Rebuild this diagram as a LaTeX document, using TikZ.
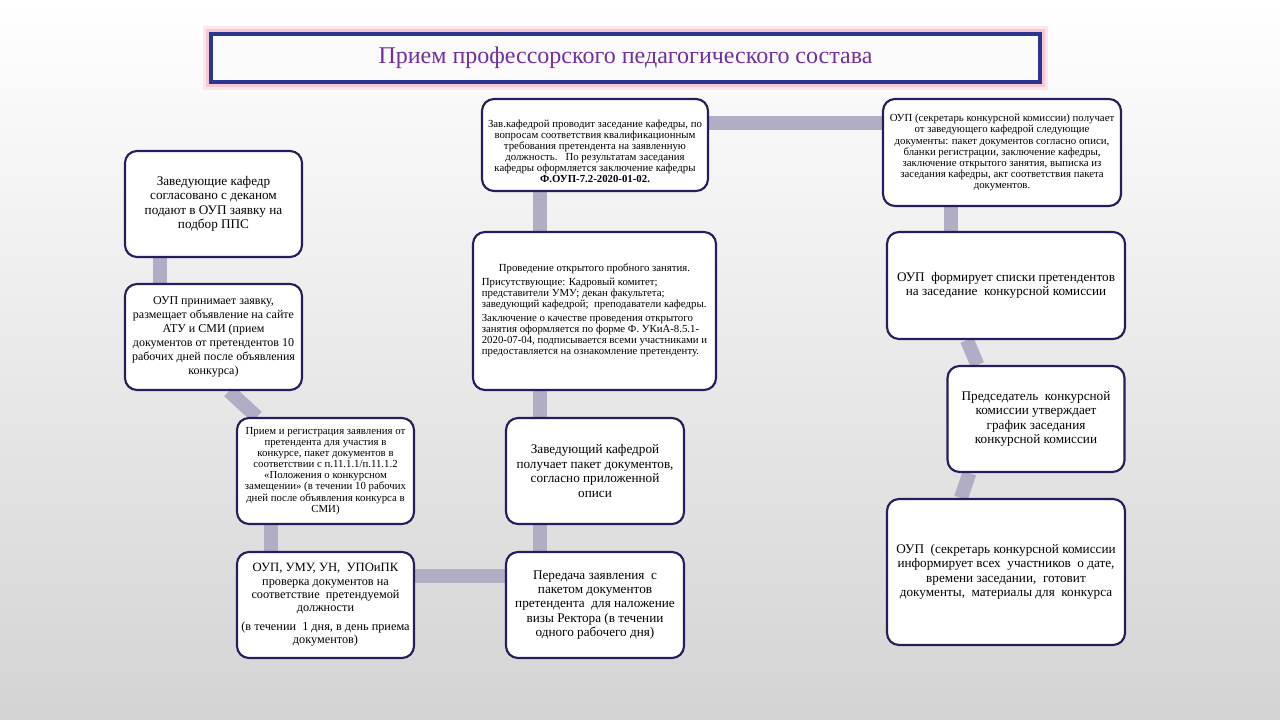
\documentclass[tikz,border=0pt]{standalone}
\usepackage{fontspec}
\setmainfont{Liberation Serif}
\usetikzlibrary{calc}
\pgfdeclarelayer{bglayer}
\pgfdeclarelayer{connlayer}
\pgfsetlayers{bglayer,connlayer,main}
\definecolor{bord}{HTML}{2A1B5C}
\definecolor{connc}{HTML}{B1ADC5}
\definecolor{titleblue}{HTML}{2B3590}
\definecolor{titletext}{HTML}{7030A0}
\definecolor{glowc}{HTML}{F6C9D2}
\begin{document}
\begin{tikzpicture}[x=0.75pt,y=-0.75pt,
  box/.style={draw=bord, line width=1.6pt, fill=white, rounded corners=9pt, align=center, inner sep=2pt},
  bigtxt/.style={font=\fontsize{9.9}{10.8}\selectfont},
  midtxt/.style={font=\fontsize{9}{10.5}\selectfont},
  smalltxt/.style={font=\fontsize{8.1}{8.3}\selectfont},
  conn/.style={draw=connc, line width=10.5pt},
  stdbox/.style={minimum width=132.75pt, minimum height=79.5pt},
  widebox/.style={minimum width=178.5pt, minimum height=80.25pt}]
\useasboundingbox (0,0) rectangle (1280,720);
\begin{pgfonlayer}{bglayer}
\shade[top color=white, bottom color=black!17] (0,0) rectangle (1280,720);
\end{pgfonlayer}

% title
\node[draw=titleblue, line width=2.4pt, fill=white!96!gray, minimum width=621.75pt, minimum height=36pt,
  font=\fontsize{18}{20}\selectfont, text=titletext] (T) at (625.5,58) {Прием профессорского педагогического состава};
\begin{pgfonlayer}{connlayer}
\draw[glowc!60, line width=9pt, opacity=0.7] (T.north west) rectangle (T.south east);
\draw[glowc, line width=5pt] (T.north west) rectangle (T.south east);
\end{pgfonlayer}

% left column
\node[box, bigtxt, stdbox] (A) at (213.5,204) {Заведующие кафедр\\согласовано с деканом\\подают в ОУП заявку на\\подбор ППС};
\node[box, midtxt, stdbox] (B) at (213.5,337) {ОУП принимает заявку,\\размещает объявление на сайте\\АТУ и СМИ (прием\\документов от претендентов 10\\рабочих дней после объявления\\конкурса)};
\node[box, smalltxt, stdbox] (C) at (325.5,471) {Прием и регистрация заявления от\\претендента для участия в\\конкурсе, пакет документов в\\соответствии с п.11.1.1/п.11.1.2\\«Положения о конкурсном\\замещении» (в течении 10 рабочих\\дней после объявления конкурса в\\СМИ)};
\node[box, font=\fontsize{9.2}{10}\selectfont, stdbox] (D) at (325.5,605) {{\fontsize{9.5}{10}\selectfont ОУП, УМУ, УН, \ УПОиПК}\\проверка документов на\\соответствие \ претендуемой\\должности\\[4pt](в течении \ 1 дня, в день приема\\документов)};

% middle column
\node[box, smalltxt, minimum width=169.5pt, minimum height=69pt] (E) at (595,145) {\rule{0pt}{15pt}Зав.кафедрой проводит заседание кафедры, по\\вопросам соответствия квалификационным\\требования претендента на заявленную\\должность.~~~По результатам заседания\\кафедры оформляется заключение кафедры\\\textbf{Ф.ОУП-7.2-2020-01-02.}};
\node[box, smalltxt, minimum width=182.25pt, minimum height=118.5pt] (F) at (594.5,311) {\begin{tabular}{@{}l@{}}\multicolumn{1}{@{}c@{}}{Проведение открытого пробного занятия.}\\[2pt]
Присутствующие: Кадровый комитет;\\
представители УМУ; декан факультета;\\
заведующий кафедрой; \ преподаватели кафедры.\\[2pt]
Заключение о качестве проведения открытого\\
занятия оформляется по форме Ф. УКиА-8.5.1-\\
2020-07-04, подписывается всеми участниками и\\
предоставляется на ознакомление претенденту.\end{tabular}};
\node[box, bigtxt, minimum width=133.5pt, minimum height=79.5pt] (G) at (595,471) {Заведующий кафедрой\\получает пакет документов,\\согласно приложенной\\описи};
\node[box, bigtxt, minimum width=133.5pt, minimum height=79.5pt] (H) at (595,605) {Передача заявления \ с\\пакетом документов\\претендента \ для наложение\\визы Ректора (в течении\\одного рабочего дня)};

% right column
\node[box, smalltxt, widebox] (I) at (1002,152.5) {ОУП (секретарь конкурсной комиссии) получает\\от заведующего кафедрой следующие\\документы: пакет документов согласно описи,\\бланки регистрации, заключение кафедры,\\заключение открытого занятия, выписка из\\заседания кафедры, акт соответствия пакета\\документов.};
\node[box, bigtxt, widebox] (J) at (1006,285.5) {ОУП \ формирует списки претендентов\\на заседание \ конкурсной комиссии};
\node[box, bigtxt, stdbox] (K) at (1036,419) {Председатель \ конкурсной\\комиссии утверждает\\график заседания\\конкурсной комиссии};
\node[box, bigtxt, minimum width=178.5pt, minimum height=109.5pt] (L) at (1006,572) {ОУП \ (секретарь конкурсной комиссии\\информирует всех \ участников \ о дате,\\времени заседании, \ готовит\\документы, \ материалы для \ конкурса};

% connectors
\begin{pgfonlayer}{connlayer}
\draw[conn] ([xshift=27pt]A.south west) -- ([xshift=27pt]B.north west);
\draw[conn] ([xshift=78.75pt]B.south west) -- ([xshift=15.75pt]C.north west);
\draw[conn] ([xshift=26.25pt]C.south west) -- ([xshift=26.25pt]D.north west);
\draw[conn] ([yshift=-18.75pt]D.north east) -- ([yshift=-18.75pt]H.north west);
\draw[conn] ([xshift=26.25pt]H.north west) -- ([xshift=26.25pt]G.south west);
\draw[conn] ([xshift=26.25pt]G.north west) -- ([xshift=51pt]F.south west);
\draw[conn] ([xshift=51pt]F.north west) -- ([xshift=44.25pt]E.south west);
\draw[conn] ([yshift=-18.75pt]E.north east) -- ([yshift=-18.75pt]I.north west);
\draw[conn] ([xshift=51.75pt]I.south west) -- ([xshift=48.75pt]J.north west);
\draw[conn] ([xshift=60.75pt]J.south west) -- ([xshift=23.25pt]K.north west);
\draw[conn] ([xshift=17.25pt]K.south west) -- ([xshift=56.25pt]L.north west);
\end{pgfonlayer}
\end{tikzpicture}
\end{document}
